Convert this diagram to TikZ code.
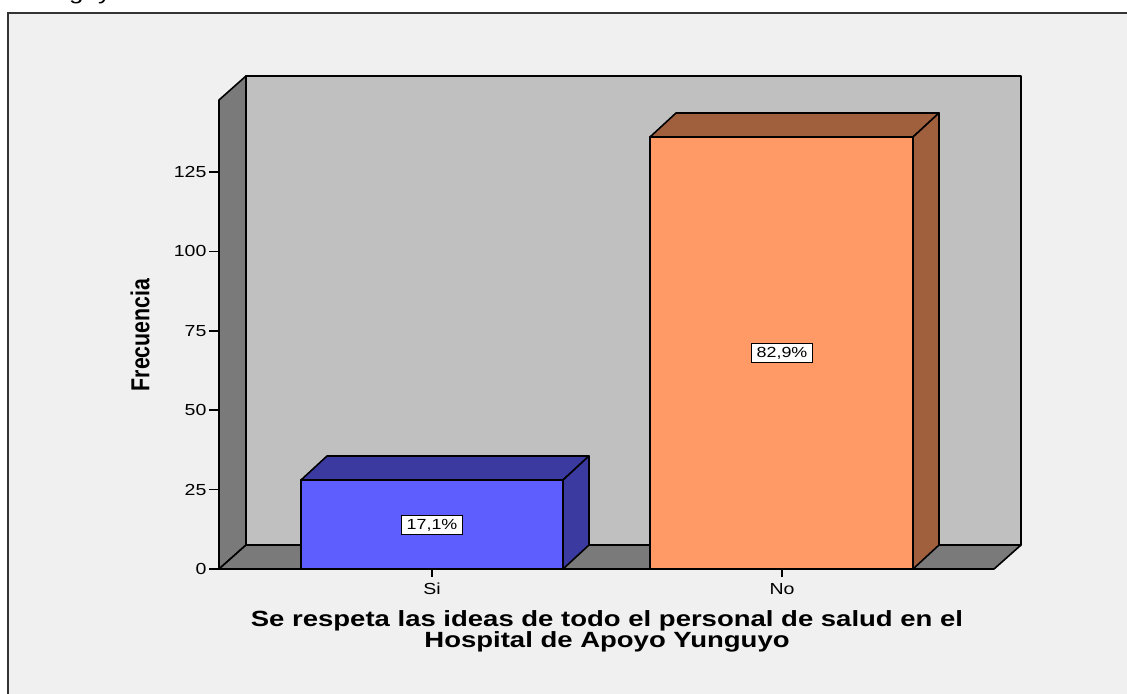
\documentclass[tikz,border=0pt]{standalone}
\usepackage{fontspec}
\setmainfont{Liberation Sans}
\usepackage{graphicx}
\usetikzlibrary{positioning}
\definecolor{wallgray}{HTML}{C0C0C0}
\definecolor{sidegray}{HTML}{7A7A7A}
\definecolor{panelgray}{HTML}{F0F0F0}
\definecolor{siface}{HTML}{5E5EFF}
\definecolor{siside}{HTML}{3A3AA0}
\definecolor{noface}{HTML}{FF9966}
\definecolor{noside}{HTML}{A0603E}
\newcommand{\wide}[1]{\scalebox{1.22}[1]{#1}}

\begin{document}
\begin{tikzpicture}[x=0.75pt, y=-0.75pt,
    face/.style={draw=black, line width=1.2pt, line join=round},
    pct/.style={draw=black, fill=white, line width=1.1pt, inner xsep=4pt, inner ysep=2.5pt,
      text height=8.2pt, text depth=0.8pt, font=\fontsize{11}{12}\selectfont},
    ticklab/.style={anchor=east, inner sep=1pt, font=\fontsize{12}{13}\selectfont},
    catlab/.style={inner sep=1pt, font=\fontsize{12}{13}\selectfont}]
        \useasboundingbox (0,0) rectangle (1127,693);
        \node[anchor=base west, inner sep=0, font=\fontsize{16}{16}\selectfont] (cut) at (24,-1) {\wide{Yunguyo}};
        \draw[line width=1.6pt, draw=black!80, fill=panelgray] (8,13) rectangle (1140,710);

        \draw[face, fill=wallgray] (246,76) rectangle (1021,545);
        \draw[face, fill=sidegray] (219,100) -- (246,76) -- (246,545) -- (219,569) -- cycle;
        \draw[face, fill=sidegray] (219,569) -- (246,545) -- (1021,545) -- (994,569) -- cycle;

        \draw[face, fill=siside] (301,480) -- (327,456) -- (589,456) -- (563,480) -- cycle;
        \draw[face, fill=siside] (563,480) -- (589,456) -- (589,545) -- (563,569) -- cycle;
        \draw[face, fill=siface] (301,480) rectangle (563,569);

        \draw[face, fill=noside] (650,137) -- (676,113) -- (939,113) -- (913,137) -- cycle;
        \draw[face, fill=noside] (913,137) -- (939,113) -- (939,545) -- (913,569) -- cycle;
        \draw[face, fill=noface] (650,137) rectangle (913,569);

        \node[pct] (psi) at (432,525) {\wide{17,1\%}};
        \node[pct] (pno) at (782,353) {\wide{82,9\%}};

        \draw[line width=1.2pt] (219,569) -- (994,569);
        \foreach \v in {0,25,...,125} {
          \draw[line width=1.2pt] (209,{569-3.176*\v}) -- (219,{569-3.176*\v});
          \node[ticklab] (t\v) at (208,{569-3.176*\v}) {\wide{\v}};
        }
        \draw[line width=1.2pt] (432,569) -- (432,577);
        \draw[line width=1.2pt] (782,569) -- (782,577);
        \node[catlab] (si) at (432,589) {\wide{Si}};
        \node[catlab] (no) at (782,589) {\wide{No}};

        \node[rotate=90, inner sep=0, font=\bfseries\fontsize{16}{16}\selectfont] (ylab) at (140,335) {\scalebox{1}[1.22]{Frecuencia}};
        \node[inner sep=0, font=\bfseries\fontsize{16.5}{14.25}\selectfont] (xlab) at (607,632)
          {\scalebox{1.25}[1]{\begin{tabular}{@{}c@{}}Se respeta las ideas de todo el personal de salud en el\\Hospital de Apoyo Yunguyo\end{tabular}}};
      \end{tikzpicture}
\end{document}
